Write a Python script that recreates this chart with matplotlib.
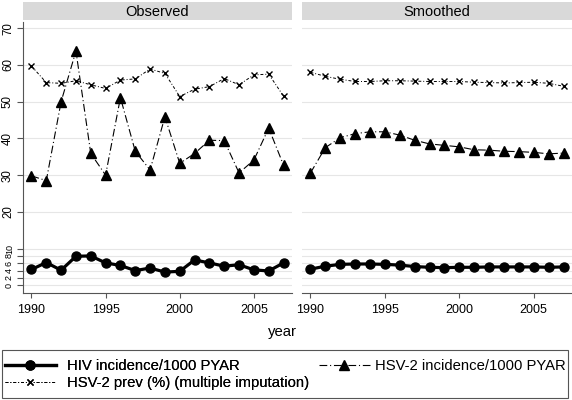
import matplotlib
matplotlib.use("Agg")
import matplotlib.pyplot as plt
from matplotlib.patches import Rectangle
from matplotlib.lines import Line2D

plt.rcParams['font.family'] = ['Liberation Sans', 'DejaVu Sans']

years = list(range(1990, 2008))

# observed panel
obs_hiv = [4.3, 6.2, 4.1, 7.9, 8.0, 6.1, 5.4, 4.0, 4.7, 3.6, 3.8, 6.9, 6.1, 5.2, 5.6, 4.2, 3.9, 6.1]
obs_hsv_inc = [29.8, 28.5, 50.0, 63.8, 35.9, 30.0, 51.1, 36.5, 31.4, 45.9, 33.2, 35.9, 39.5, 39.4,
               30.6, 34.1, 42.8, 32.7]
obs_hsv_prev = [59.7, 55.2, 55.0, 55.7, 54.6, 53.6, 55.9, 56.2, 58.9, 57.7, 51.4, 53.4, 54.1, 56.3,
                54.6, 57.3, 57.5, 51.5]

# smoothed panel
sm_hiv = [4.4, 5.2, 5.7, 5.8, 5.8, 5.7, 5.5, 5.1, 4.9, 4.8, 4.9, 4.9, 5.0, 5.0, 5.0, 5.0, 4.9, 5.0]
sm_hsv_inc = [30.6, 37.5, 40.2, 41.3, 41.8, 41.8, 40.9, 39.5, 38.5, 38.1, 37.7, 36.9, 36.8, 36.5,
              36.4, 36.2, 35.8, 36.0]
sm_hsv_prev = [58.0, 56.9, 56.1, 55.5, 55.5, 55.7, 55.7, 55.6, 55.5, 55.5, 55.5, 55.3, 55.2, 55.1,
               55.2, 55.3, 55.0, 54.2]

panels = ["Observed", "Smoothed"]
yticks_small = [0, 2, 4, 6, 8, 10]
yticks_big = [20, 30, 40, 50, 60, 70]
xticks = [1990, 1995, 2000, 2005]

W, H = 572, 400
fig = plt.figure(figsize=(W / 100, H / 100), dpi=100)


def px(x0, y0, x1, y1):
    # pixel box (top-left origin) -> figure rect
    return [x0 / W, 1 - y1 / H, (x1 - x0) / W, (y1 - y0) / H]


ax_l = fig.add_axes(px(23, 22, 292, 293))
ax_r = fig.add_axes(px(302, 22, 572, 293))

data = [(obs_hiv, obs_hsv_inc, obs_hsv_prev), (sm_hiv, sm_hsv_inc, sm_hsv_prev)]
grid_col = '#e6e6e6'
axis_col = '#555555'

hiv_style = dict(color='black', lw=2.3, marker='o', ms=6.5)
inc_style = dict(color='black', lw=0.8, dashes=(7, 2.5, 1, 2.5), marker='^', ms=7)
prev_style = dict(color='black', lw=0.7, dashes=(3, 2, 1, 2), marker='x', ms=5, mew=1.0)

for i, (ax, title, (hiv, inc, prev)) in enumerate(zip([ax_l, ax_r], panels, data)):
    for g in yticks_small + yticks_big:
        ax.axhline(g, color=grid_col, lw=0.8, zorder=0)
    ax.plot(years, prev, zorder=3, **prev_style)
    ax.plot(years, inc, zorder=3, **inc_style)
    ax.plot(years, hiv, zorder=4, **hiv_style)

    ax.set_xlim(1989.43, 2007.57)
    ax.set_ylim(-2.1, 71.7)
    ax.set_xticks(xticks)
    ax.tick_params(axis='x', length=3.6, width=0.8, color=axis_col, labelsize=9, pad=4)
    for s in ['top', 'right']:
        ax.spines[s].set_visible(False)
    ax.spines['bottom'].set_color(axis_col)
    ax.spines['bottom'].set_linewidth(0.8)

    # panel header
    pos = ax.get_position()
    fig.patches.append(Rectangle((pos.x0, 1 - 20 / H), pos.width, 18 / H,
                                 transform=fig.transFigure, facecolor='#d9d9d9',
                                 edgecolor='none'))
    fig.text(pos.x0 + pos.width / 2, 1 - 11.5 / H, title, ha='center', va='center',
             fontsize=10.5)

    if i == 0:
        ax.set_yticks(yticks_small + yticks_big)
        ax.set_yticklabels([str(v) for v in yticks_small + yticks_big], rotation=90, va='center')
        ax.tick_params(axis='y', length=4, width=0.8, color=axis_col, labelsize=8.3, pad=2.5)
        for lab in ax.get_yticklabels()[:len(yticks_small)]:
            lab.set_fontsize(6.5)
        ax.spines['left'].set_color(axis_col)
        ax.spines['left'].set_linewidth(0.8)
    else:
        ax.set_yticks([])
        ax.spines['left'].set_visible(False)

fig.text(282 / W, 1 - 332 / H, "year", ha='center', va='center', fontsize=10.7)

# legend box drawn by hand, two legends inside without frames
fig.patches.append(Rectangle((2 / W, 1 - 398 / H), 566 / W, 48 / H, transform=fig.transFigure,
                             facecolor='white', edgecolor='#555555', lw=0.8))
h_hiv = Line2D([], [], **hiv_style)
h_prev = Line2D([], [], **prev_style)
h_inc = Line2D([], [], **inc_style)
leg_kw = dict(fontsize=10.7, handlelength=3.4, labelspacing=0.2,
              borderaxespad=0, borderpad=0, frameon=False, loc='upper left')
leg1 = fig.legend([h_hiv, h_prev], ["HIV incidence/1000 PYAR", "HSV-2 prev (%) (multiple imputation)"],
                  bbox_to_anchor=(5 / W, 1 - 359 / H), handletextpad=0.75, **leg_kw)
fig.add_artist(leg1)
fig.legend([h_inc], ["HSV-2 incidence/1000 PYAR"], bbox_to_anchor=(319 / W, 1 - 359 / H),
           handletextpad=0.4, **leg_kw)

fig.savefig("out.png", dpi=100)
